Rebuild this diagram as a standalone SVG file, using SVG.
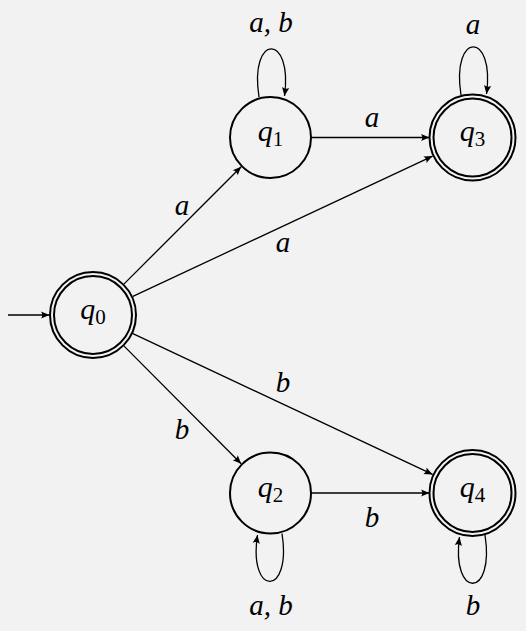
<svg xmlns="http://www.w3.org/2000/svg" width="526" height="631" viewBox="0 0 526 631">
<style>
.st{fill:none;stroke:#000;stroke-width:2}
.e{fill:none;stroke:#000;stroke-width:1.3;marker-end:url(#ah)}
.lb{font-family:"Liberation Serif",serif;font-style:italic;font-size:29px;fill:#000;text-anchor:middle}
.nm{font-family:"Liberation Serif",serif;font-size:30px;fill:#000;text-anchor:middle}
.nm .v{font-style:italic}
.nm .s{font-size:21px}
</style>
<defs>
<marker id="ah" markerUnits="userSpaceOnUse" markerWidth="12" markerHeight="10" viewBox="-10 -5 12 10" refX="0" refY="0" orient="auto">
<path d="M0,0 L-8.5,-3.6 Q-6,0 -8.5,3.6 Z" fill="#000"/>
</marker>
</defs>
<rect width="526" height="631" fill="#f2f2f2"/>
<g id="connectors">
<path class="e" d="M8,315 L49.5,315"/>
<path class="e" d="M124.1,283.9 L241.2,166.8"/>
<path class="e" d="M132.9,296.4 L432.6,156.1"/>
<path class="e" d="M132.9,333.6 L432.6,474.4"/>
<path class="e" d="M124.1,346.1 L241.2,463.7"/>
<path class="e" d="M311.5,137.5 L429.5,137.5"/>
<path class="e" d="M311.5,493 L429.5,493"/>
<path class="e" d="M259,97 C249,33 293,33 284.5,96"/>
<path class="e" d="M461,95 C451,31 495,31 486.5,94"/>
<path class="e" d="M282,533.5 C292,597 248,597 257.5,535"/>
<path class="e" d="M485,535 C495,599 451,599 459.5,537"/>
<text class="lb" x="182" y="215">a</text>
<text class="lb" x="283" y="252">a</text>
<text class="lb" x="283" y="392">b</text>
<text class="lb" x="182" y="439">b</text>
<text class="lb" x="372" y="127">a</text>
<text class="lb" x="372" y="527">b</text>
<text class="lb" x="271" y="32">a, b</text>
<text class="lb" x="473" y="34">a</text>
<text class="lb" x="271" y="615">a, b</text>
<text class="lb" x="473" y="615">b</text>
</g>
<g id="q0">
<circle class="st" cx="93" cy="315" r="43"/>
<circle class="st" cx="93" cy="315" r="39"/>
<text class="nm" x="93" y="319"><tspan class="v">q</tspan><tspan class="s" dy="5">0</tspan></text>
</g>
<g id="q1">
<circle class="st" cx="270.5" cy="137.5" r="40.5"/>
<text class="nm" x="270.5" y="141"><tspan class="v">q</tspan><tspan class="s" dy="5">1</tspan></text>
</g>
<g id="q2">
<circle class="st" cx="270.5" cy="493" r="40.5"/>
<text class="nm" x="270.5" y="497"><tspan class="v">q</tspan><tspan class="s" dy="5">2</tspan></text>
</g>
<g id="q3">
<circle class="st" cx="472.5" cy="137.5" r="43"/>
<circle class="st" cx="472.5" cy="137.5" r="39"/>
<text class="nm" x="472.5" y="141"><tspan class="v">q</tspan><tspan class="s" dy="5">3</tspan></text>
</g>
<g id="q4">
<circle class="st" cx="472.5" cy="493" r="43"/>
<circle class="st" cx="472.5" cy="493" r="39"/>
<text class="nm" x="472.5" y="497"><tspan class="v">q</tspan><tspan class="s" dy="5">4</tspan></text>
</g>
</svg>
